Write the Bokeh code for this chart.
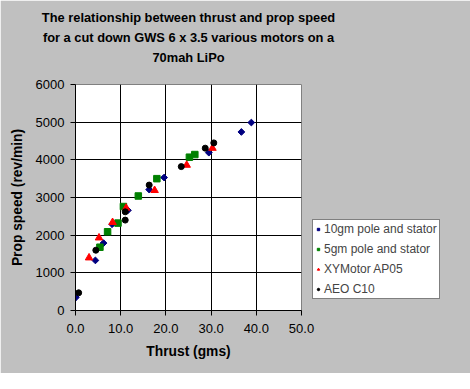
from bokeh.plotting import figure
from bokeh.models import Legend, LegendItem, FixedTicker, Range1d, Title
from bokeh.embed import file_html
from bokeh.resources import INLINE

# ---- data ----
thrust_10gm = [0.1, 4.4, 6.2, 8.1, 11.6, 16.3, 19.6, 29.5, 36.7, 38.9]
speed_10gm = [350, 1330, 1790, 2290, 2660, 3210, 3530, 4190, 4740, 4990]

thrust_5gm = [5.4, 7.1, 9.4, 10.6, 13.9, 18.0, 25.2, 26.4]
speed_5gm = [1680, 2090, 2320, 2760, 3040, 3500, 4070, 4140]

thrust_xy = [3.0, 5.2, 8.2, 11.2, 17.5, 24.6, 30.3]
speed_xy = [1400, 1930, 2340, 2720, 3190, 3860, 4310]

thrust_aeo = [0.7, 4.5, 11.0, 11.0, 16.3, 23.4, 28.7, 30.6]
speed_aeo = [470, 1600, 2400, 2620, 3330, 3820, 4310, 4450]

series_names = ["10gm pole and stator", "5gm pole and stator", "XYMotor AP05", "AEO C10"]
x_ticks = [0, 10, 20, 30, 40, 50]
x_tick_labels = ["0.0", "10.0", "20.0", "30.0", "40.0", "50.0"]
y_ticks = [0, 1000, 2000, 3000, 4000, 5000, 6000]
y_grid = [1000, 2000, 3000, 4000, 5000]
x_grid = [10, 20, 30, 40]

title_lines = ["The relationship between thrust and prop speed",
               "for a cut down GWS 6 x 3.5 various motors on a",
               "70mah LiPo"]

FONT = "Liberation Sans"

p = figure(frame_width=226, frame_height=226, output_backend="svg", toolbar_location=None,
           x_range=Range1d(0, 50), y_range=Range1d(0, 6000),
           min_border_left=75, min_border_right=120, min_border_top=84, min_border_bottom=63)

p.border_fill_color = "#C0C0C0"
p.background_fill_color = "white"
p.outline_line_color = "#808080"


def style_title(t, standoff, size="12.85px"):
    t.align = "center"
    t.text_font = FONT
    t.text_font_size = size
    t.text_font_style = "bold"
    t.standoff = standoff
    t.text_color = "black"


# p.above[0] is closest to the frame; built-in title is outermost (line 1)
spacer = Title(text=" ")
style_title(spacer, 15, "1px")
p.add_layout(spacer, "above")
p.title.text = title_lines[0]
style_title(p.title, 3)
t3 = Title(text=title_lines[2])
style_title(t3, 3)
p.add_layout(t3, "above")
t2 = Title(text=title_lines[1])
style_title(t2, 3)
p.add_layout(t2, "above")

for ax in (p.xaxis[0], p.yaxis[0]):
    ax.axis_line_color = "black"
    ax.major_tick_line_color = "black"
    ax.major_tick_out = 5
    ax.major_tick_in = 0
    ax.minor_tick_line_color = None
    ax.major_label_text_font = FONT
    ax.major_label_text_font_size = "13px"
    ax.major_label_text_color = "black"
    ax.axis_label_text_font = FONT
    ax.axis_label_text_font_size = "13.8px"
    ax.axis_label_text_font_style = "bold"
    ax.axis_label_text_color = "black"

p.xaxis.ticker = FixedTicker(ticks=x_ticks)
p.xaxis.major_label_overrides = {t: l for t, l in zip(x_ticks, x_tick_labels)}
p.xaxis.axis_label = "Thrust (gms)"
p.xaxis.major_label_standoff = 8
p.xaxis.axis_label_standoff = 8

p.yaxis.ticker = FixedTicker(ticks=y_ticks)
p.yaxis.axis_label = "Prop speed (rev/min)"
p.yaxis.major_label_standoff = 6
p.yaxis.axis_label_standoff = 8

p.xgrid.ticker = FixedTicker(ticks=x_grid)
p.ygrid.ticker = FixedTicker(ticks=y_grid)
p.xgrid.grid_line_color = "black"
p.ygrid.grid_line_color = "black"

r1 = p.scatter(thrust_10gm, speed_10gm, marker="square", angle=0.785398, size=4.8,
               fill_color="#000080", line_color="#000080")
r2 = p.scatter(thrust_5gm, speed_5gm, marker="square", size=6.5,
               fill_color="#008000", line_color="#008000")
r3 = p.scatter(thrust_xy, speed_xy, marker="triangle", size=7.5,
               fill_color="#FF0000", line_color="#FF0000")
r4 = p.scatter(thrust_aeo, speed_aeo, marker="circle", size=6,
               fill_color="black", line_color="black")

legend = Legend(items=[LegendItem(label=n, renderers=[r]) for n, r in zip(series_names, [r1, r2, r3, r4])],
                location="bottom_left")
legend.border_line_color = "black"
legend.border_line_width = 1
legend.background_fill_color = "white"
legend.background_fill_alpha = 1
legend.label_text_font = FONT
legend.label_text_font_size = "12px"
legend.glyph_width = 6
legend.glyph_height = 14
legend.label_height = 14
legend.spacing = 6
legend.padding = 2
legend.margin = 11
legend.label_standoff = 3
p.add_layout(legend, "right")

open("out.html", "w").write(file_html(p, INLINE))
